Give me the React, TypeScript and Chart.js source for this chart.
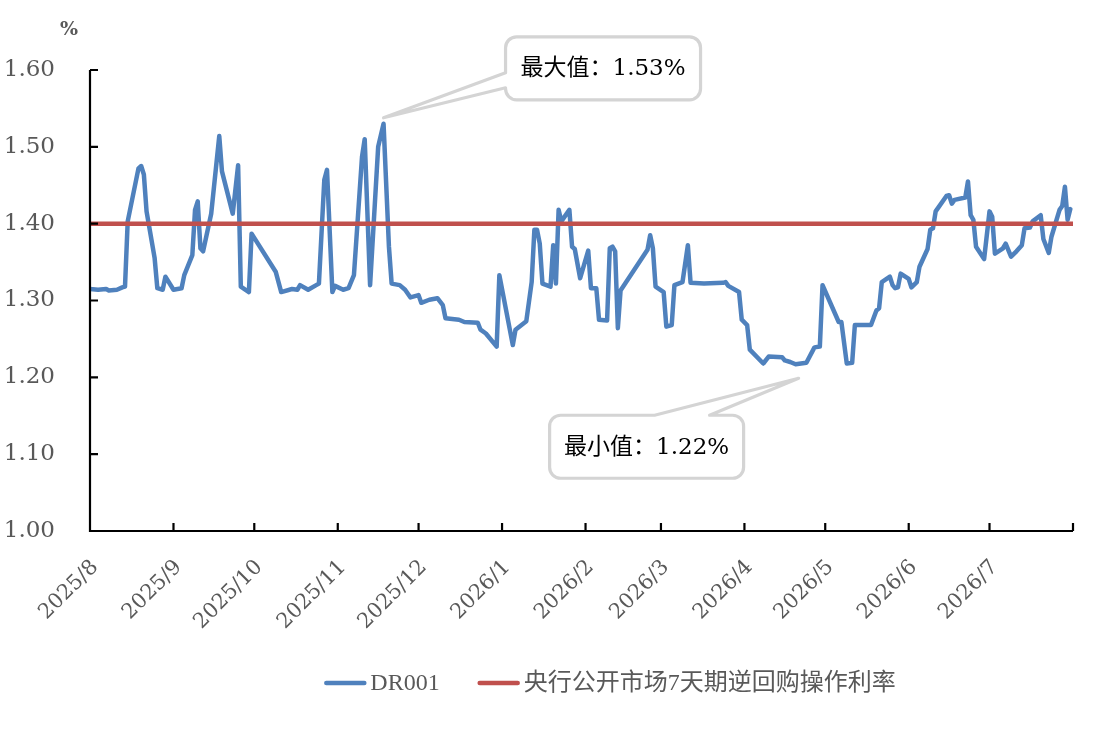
import React, { useEffect, useRef } from "react";
import { Chart, registerables } from "chart.js";

Chart.register(...registerables);

// ---------------- data ----------------
const dates = [
  "2025-08-01","2025-08-04","2025-08-07","2025-08-08","2025-08-11","2025-08-13","2025-08-14","2025-08-15",
  "2025-08-19","2025-08-20","2025-08-21","2025-08-22","2025-08-25","2025-08-26","2025-08-28","2025-08-29",
  "2025-09-01","2025-09-04","2025-09-05","2025-09-08","2025-09-09","2025-09-10","2025-09-11","2025-09-12",
  "2025-09-15","2025-09-18","2025-09-19","2025-09-23","2025-09-25","2025-09-26","2025-09-29","2025-09-30",
  "2025-10-09","2025-10-10","2025-10-11","2025-10-15","2025-10-17","2025-10-18","2025-10-21","2025-10-24",
  "2025-10-25","2025-10-27","2025-10-28","2025-10-30","2025-10-31","2025-11-03","2025-11-05","2025-11-07",
  "2025-11-10","2025-11-11","2025-11-13","2025-11-16","2025-11-18","2025-11-20","2025-11-21","2025-11-24",
  "2025-11-26","2025-11-28","2025-12-01","2025-12-02","2025-12-05","2025-12-08","2025-12-10","2025-12-11",
  "2025-12-16","2025-12-18","2025-12-23","2025-12-24","2025-12-26","2025-12-30","2025-12-31","2026-01-05",
  "2026-01-06","2026-01-10","2026-01-12","2026-01-13","2026-01-14","2026-01-15","2026-01-16","2026-01-19",
  "2026-01-20","2026-01-21","2026-01-22","2026-01-23","2026-01-26","2026-01-27","2026-01-28","2026-01-30",
  "2026-02-02","2026-02-03","2026-02-05","2026-02-06","2026-02-09","2026-02-10","2026-02-11","2026-02-12",
  "2026-02-13","2026-02-14","2026-02-24","2026-02-25","2026-02-26","2026-02-27","2026-03-02","2026-03-03",
  "2026-03-05","2026-03-06","2026-03-09","2026-03-11","2026-03-12","2026-03-17","2026-03-24","2026-03-25",
  "2026-03-26","2026-03-30","2026-03-31","2026-04-02","2026-04-03","2026-04-08","2026-04-10","2026-04-15",
  "2026-04-16","2026-04-18","2026-04-20","2026-04-24","2026-04-27","2026-04-29","2026-04-30","2026-05-06",
  "2026-05-07","2026-05-09","2026-05-11","2026-05-12","2026-05-14","2026-05-18","2026-05-20","2026-05-21",
  "2026-05-22","2026-05-25","2026-05-26","2026-05-27","2026-05-28","2026-05-29","2026-06-01","2026-06-02",
  "2026-06-04","2026-06-05","2026-06-08","2026-06-09","2026-06-10","2026-06-11","2026-06-15","2026-06-16",
  "2026-06-17","2026-06-18","2026-06-22","2026-06-23","2026-06-24","2026-06-25","2026-06-26","2026-06-29",
  "2026-07-01","2026-07-02","2026-07-03","2026-07-06","2026-07-07","2026-07-09","2026-07-11","2026-07-13",
  "2026-07-14","2026-07-16","2026-07-17","2026-07-20","2026-07-21","2026-07-23","2026-07-24","2026-07-27",
  "2026-07-28","2026-07-29","2026-07-30","2026-07-31",
];

const dr001 = [
  1.315,1.314,1.315,1.313,1.314,1.317,1.318,1.403,
  1.472,1.475,1.464,1.416,1.355,1.316,1.314,1.331,
  1.314,1.316,1.333,1.359,1.418,1.429,1.368,1.364,
  1.413,1.514,1.468,1.413,1.476,1.318,1.311,1.387,
  1.337,1.324,1.311,1.315,1.314,1.320,1.314,1.320,
  1.322,1.457,1.470,1.311,1.319,1.314,1.316,1.333,
  1.487,1.510,1.320,1.500,1.530,1.370,1.322,1.320,
  1.314,1.304,1.307,1.297,1.301,1.303,1.294,1.277,
  1.275,1.272,1.271,1.262,1.257,1.240,1.333,1.242,
  1.262,1.273,1.324,1.392,1.392,1.374,1.322,1.318,
  1.372,1.322,1.418,1.403,1.418,1.370,1.367,1.329,
  1.365,1.316,1.316,1.275,1.274,1.368,1.370,1.364,
  1.264,1.313,1.366,1.385,1.368,1.318,1.311,1.266,
  1.268,1.320,1.324,1.372,1.323,1.322,1.323,1.324,
  1.319,1.311,1.275,1.268,1.236,1.218,1.227,1.226,
  1.222,1.220,1.217,1.219,1.239,1.240,1.320,1.272,
  1.272,1.218,1.219,1.268,1.268,1.268,1.287,1.290,
  1.324,1.331,1.320,1.316,1.317,1.335,1.328,1.317,
  1.324,1.344,1.367,1.392,1.394,1.416,1.436,1.437,
  1.426,1.431,1.434,1.455,1.411,1.405,1.370,1.354,
  1.416,1.409,1.361,1.368,1.374,1.357,1.364,1.372,
  1.394,1.395,1.403,1.411,1.380,1.362,1.383,1.418,
  1.423,1.448,1.405,1.419,
];

const policyDates = ["2025-08-01", "2026-08-01"];
const policyRate = [1.4, 1.4];

const seriesNames = ["DR001", "央行公开市场7天期逆回购操作利率"];

const monthTickDates = [
  "2025-08-01","2025-09-01","2025-10-01","2025-11-01","2025-12-01","2026-01-01","2026-02-01",
  "2026-03-01","2026-04-01","2026-05-01","2026-06-01","2026-07-01","2026-08-01",
];
const monthTickLabels = [
  "2025/8","2025/9","2025/10","2025/11","2025/12","2026/1","2026/2",
  "2026/3","2026/4","2026/5","2026/6","2026/7","",
];

const yTickValues = [1.0, 1.1, 1.2, 1.3, 1.4, 1.5, 1.6];
const yUnit = "%";

// ---------------- helpers ----------------
const ORIGIN = Date.UTC(2025, 7, 1);
const toDay = (s: string) => {
  const [y, m, d] = s.split("-").map(Number);
  return (Date.UTC(y, m - 1, d) - ORIGIN) / 86400000;
};

const BLUE = "#4F81BD";
const RED = "#C0504D";
const GRAY_TEXT = "#595959";
const SERIF = '"DejaVu Serif", "Noto Sans CJK SC", serif';
const LEGEND_FONT = '"Liberation Serif", "Noto Sans CJK SC", serif';

function calloutLeftWedge(ctx: CanvasRenderingContext2D, bx: number, by: number, w: number, h: number, r: number,
  b1: number, b2: number, tx: number, ty: number) {
  ctx.beginPath();
  ctx.moveTo(bx + r, by);
  ctx.lineTo(bx + w - r, by);
  ctx.arcTo(bx + w, by, bx + w, by + r, r);
  ctx.lineTo(bx + w, by + h - r);
  ctx.arcTo(bx + w, by + h, bx + w - r, by + h, r);
  ctx.lineTo(bx + r, by + h);
  ctx.arcTo(bx, by + h, bx, by + h - r, r);
  ctx.lineTo(bx, by + b2);
  ctx.lineTo(tx, ty);
  ctx.lineTo(bx, by + b1);
  ctx.lineTo(bx, by + r);
  ctx.arcTo(bx, by, bx + r, by, r);
  ctx.closePath();
}

function calloutTopWedge(ctx: CanvasRenderingContext2D, bx: number, by: number, w: number, h: number, r: number,
  a1: number, a2: number, tx: number, ty: number) {
  ctx.beginPath();
  ctx.moveTo(bx + r, by);
  ctx.lineTo(bx + a1, by);
  ctx.lineTo(tx, ty);
  ctx.lineTo(bx + a2, by);
  ctx.lineTo(bx + w - r, by);
  ctx.arcTo(bx + w, by, bx + w, by + r, r);
  ctx.lineTo(bx + w, by + h - r);
  ctx.arcTo(bx + w, by + h, bx + w - r, by + h, r);
  ctx.lineTo(bx + r, by + h);
  ctx.arcTo(bx, by + h, bx, by + h - r, r);
  ctx.lineTo(bx, by + r);
  ctx.arcTo(bx, by, bx + r, by, r);
  ctx.closePath();
}

const decorPlugin = {
  id: "decor",
  afterDatasetsDraw(chart: any) {
    const { ctx, chartArea, scales } = chart;
    const xs = scales.x;
    const ys = scales.y;
    ctx.save();
    ctx.strokeStyle = "#000";
    ctx.lineWidth = 2.2;
    ctx.lineCap = "butt";
    ctx.beginPath();
    ctx.moveTo(chartArea.left, chartArea.top);
    ctx.lineTo(chartArea.left, chartArea.bottom);
    ctx.lineTo(chartArea.right, chartArea.bottom);
    ys.ticks.forEach((t: any) => {
      const py = ys.getPixelForValue(t.value);
      ctx.moveTo(chartArea.left, py);
      ctx.lineTo(chartArea.left + 8, py);
    });
    xs.ticks.forEach((t: any) => {
      const px = xs.getPixelForValue(t.value);
      ctx.moveTo(px, chartArea.bottom);
      ctx.lineTo(px, chartArea.bottom - 8);
    });
    ctx.stroke();
    ctx.restore();
  },
  afterDraw(chart: any) {
    const { ctx, scales } = chart;
    const xs = scales.x;
    const ys = scales.y;
    ctx.save();

    // unit label
    ctx.fillStyle = GRAY_TEXT;
    ctx.font = `bold 19px ${SERIF}`;
    ctx.textAlign = "center";
    ctx.textBaseline = "middle";
    ctx.fillText(yUnit, 69, 30);

    // callouts
    let maxI = 0, minI = 0;
    dr001.forEach((v, i) => {
      if (v > dr001[maxI]) maxI = i;
      if (v < dr001[minI]) minI = i;
    });
    const maxV = dr001[maxI];
    const minV = dr001[minI];

    ctx.lineWidth = 3.2;
    ctx.strokeStyle = "#D4D4D4";
    ctx.fillStyle = "#fff";
    ctx.lineJoin = "round";

    // max
    {
      const tx = xs.getPixelForValue(toDay(dates[maxI]));
      const ty = ys.getPixelForValue(maxV) - 6;
      const bx = tx + 122, by = ty - 81, w = 195, h = 63;
      calloutLeftWedge(ctx, bx, by, w, h, 11, 36, 51, tx, ty);
      ctx.fill();
      ctx.stroke();
      ctx.fillStyle = "#000";
      ctx.font = `23px ${SERIF}`;
      ctx.textAlign = "center";
      ctx.textBaseline = "middle";
      ctx.fillText(`最大值：${maxV.toFixed(2)}%`, bx + w / 2, by + h / 2 + 1);
    }
    // min
    {
      ctx.fillStyle = "#fff";
      const tx = xs.getPixelForValue(toDay(dates[minI])) + 3;
      const ty = ys.getPixelForValue(minV) + 14;
      const bx = tx - 249, by = ty + 37, w = 194, h = 63;
      calloutTopWedge(ctx, bx, by, w, h, 11, 105, 160, tx, ty);
      ctx.fill();
      ctx.stroke();
      ctx.fillStyle = "#000";
      ctx.font = `23px ${SERIF}`;
      ctx.textAlign = "center";
      ctx.textBaseline = "middle";
      ctx.fillText(`最小值：${minV.toFixed(2)}%`, bx + w / 2, by + h / 2 + 1);
    }

    // legend
    const items = chart.data.datasets.map((ds: any) => ({ label: ds.label, color: ds.borderColor }));
    ctx.font = `24px ${LEGEND_FONT}`;
    const sample = 42, gapT = 4, gapItem = 38;
    const widths = items.map((it: any) => ctx.measureText(it.label).width);
    let total = 0;
    widths.forEach((w: number, i: number) => { total += sample + gapT + w + (i > 0 ? gapItem : 0); });
    let cx = 610 - total / 2;
    const ly = 683;
    items.forEach((it: any, i: number) => {
      ctx.strokeStyle = it.color;
      ctx.lineWidth = 4.5;
      ctx.lineCap = "round";
      ctx.beginPath();
      ctx.moveTo(cx + 2, ly);
      ctx.lineTo(cx + sample - 2, ly);
      ctx.stroke();
      ctx.fillStyle = GRAY_TEXT;
      ctx.textAlign = "left";
      ctx.textBaseline = "middle";
      ctx.fillText(it.label, cx + sample + gapT, ly + 1);
      cx += sample + gapT + widths[i] + gapItem;
    });

    ctx.restore();
  },
};

export default function App() {
  const ref = useRef<HTMLCanvasElement>(null);
  useEffect(() => {
    const blueData = dates.map((d, i) => ({ x: toDay(d), y: dr001[i] }));
    const redData = policyDates.map((d, i) => ({ x: toDay(d), y: policyRate[i] }));
    const monthVals = monthTickDates.map(toDay);
    const chart = new Chart(ref.current as HTMLCanvasElement, {
      type: "line",
      data: {
        datasets: [
          {
            label: seriesNames[0],
            data: blueData,
            borderColor: BLUE,
            backgroundColor: BLUE,
            borderWidth: 4.5,
            pointRadius: 0,
            tension: 0,
            borderJoinStyle: "round",
            borderCapStyle: "round",
            order: 1,
          },
          {
            label: seriesNames[1],
            data: redData,
            borderColor: RED,
            backgroundColor: RED,
            borderWidth: 4.5,
            pointRadius: 0,
            tension: 0,
            order: 0,
          },
        ],
      },
      options: {
        animation: false,
        responsive: true,
        maintainAspectRatio: false,
        layout: { padding: { top: 70, right: 28, left: 0, bottom: 0 } },
        plugins: {
          legend: { display: false },
          tooltip: { enabled: false },
        },
        scales: {
          x: {
            type: "linear",
            min: monthVals[0],
            max: monthVals[monthVals.length - 1],
            grid: { display: false },
            border: { display: false },
            afterBuildTicks: (s: any) => {
              s.ticks = monthVals.map((v) => ({ value: v }));
            },
            afterFit: (s: any) => {
              s.height = 199;
              s.paddingRight = 0;
            },
            ticks: {
              autoSkip: false,
              minRotation: 45,
              maxRotation: 45,
              padding: 16,
              labelOffset: 5,
              color: GRAY_TEXT,
              font: { family: SERIF, size: 21 },
              callback: (_v: any, i: number) => monthTickLabels[i] ?? "",
            },
          },
          y: {
            type: "linear",
            min: yTickValues[0],
            max: yTickValues[yTickValues.length - 1],
            grid: { display: false },
            border: { display: false },
            afterBuildTicks: (s: any) => {
              s.ticks = yTickValues.map((v) => ({ value: v }));
            },
            afterFit: (s: any) => {
              s.width = 90;
            },
            ticks: {
              padding: 27,
              color: GRAY_TEXT,
              font: { family: SERIF, size: 23 },
              callback: (v: any) => Number(v).toFixed(2),
            },
          },
        },
      },
      plugins: [decorPlugin],
    } as any);
    return () => chart.destroy();
  }, []);
  return (
    <div style={{ position: "absolute", left: 0, top: 0, width: 1101, height: 730, background: "#fff" }}>
      <canvas ref={ref} />
    </div>
  );
}
